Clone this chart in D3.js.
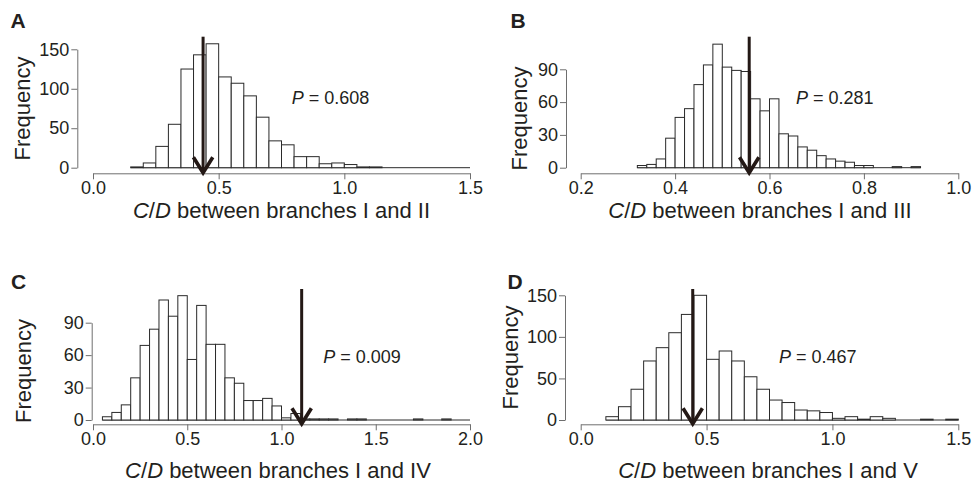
<!DOCTYPE html>
<html>
<head>
<meta charset="utf-8">
<script src="https://cdn.jsdelivr.net/npm/d3@7"></script>
<style>
  html, body { margin: 0; padding: 0; background: #fff; }
  svg { display: block; font-family: "Liberation Sans", Arial, Helvetica, sans-serif; }
</style>
</head>
<body>
<svg id="chart" width="973" height="483"></svg>
<script>
// ---------------- DATA ----------------
// Panel A: C/D between branches I and II (bins of 0.05 starting at 0.15)
const binStartA = 0.15, binWidthA = 0.05;
const countsA = [1, 6, 27, 55, 125, 143, 157, 115, 107, 91, 64, 34, 29, 14, 14, 5, 6, 4, 1, 1,
                 0, 0, 0, 0, 0, 0, 0];
const xTicksA = [0.0, 0.5, 1.0, 1.5];
const yTicksA = [0, 50, 100, 150];
const observedA = 0.438;
const pLabelA = "0.608";

// Panel B: C/D between branches I and III (bins of 0.02 starting at 0.32)
const binStartB = 0.32, binWidthB = 0.02;
const countsB = [2, 3, 8, 27, 46, 54, 76, 94, 113, 92, 89, 88, 63, 52, 63, 31, 29, 19, 16, 11,
                 8, 6, 5, 2, 2, 0, 0, 1, 0, 1];
const xTicksB = [0.2, 0.4, 0.6, 0.8, 1.0];
const yTicksB = [0, 30, 60, 90];
const observedB = 0.557;
const pLabelB = "0.281";

// Panel C: C/D between branches I and IV (bins of 0.05 starting at 0.05)
const binStartC = 0.05, binWidthC = 0.05;
const countsC = [3, 7, 14, 39, 69, 84, 111, 96, 115, 56, 106, 70, 70, 39, 34, 18, 18, 20, 13, 2,
                 6, 1, 1, 1, 1, 0, 1, 1, 0, 0, 0, 0, 0, 1, 0, 0, 1, 0, 0];
const xTicksC = [0.0, 0.5, 1.0, 1.5, 2.0];
const yTicksC = [0, 30, 60, 90];
const observedC = 1.107;
const pLabelC = "0.009";

// Panel D: C/D between branches I and V (bins of 0.05 starting at 0.10)
const binStartD = 0.10, binWidthD = 0.05;
const countsD = [4, 16, 37, 71, 87, 105, 127, 150, 73, 83, 71, 52, 37, 24, 21, 12, 11, 9, 2, 4,
                 1, 4, 2, 0, 0, 1, 0, 1];
const xTicksD = [0.0, 0.5, 1.0, 1.5];
const yTicksD = [0, 50, 100, 150];
const observedD = 0.445;
const pLabelD = "0.467";

const panelLetters = ["A", "B", "C", "D"];
const branchNames = ["II", "III", "IV", "V"];

// ---------------- LAYOUT ----------------
const panels = [
  { letter: panelLetters[0], branch: branchNames[0], start: binStartA, width: binWidthA, counts: countsA,
    xTicks: xTicksA, yTicks: yTicksA, obs: observedA, p: pLabelA,
    xDom: [0, 1.5], xRange: [93, 470], yDom: [0, 150], yRange: [167.7, 49.3],
    axisY: 173.3, axisX: 77.3, arrowTop: 36.7,
    letterPos: [10.5, 27.7], pPos: [291.7, 104], titlePos: [281.5, 218.3], freqPos: [29.5, 108.5] },
  { letter: panelLetters[1], branch: branchNames[1], start: binStartB, width: binWidthB, counts: countsB,
    xTicks: xTicksB, yTicks: yTicksB, obs: observedB, p: pLabelB,
    xDom: [0.2, 1.0], xRange: [580.7, 958.3], yDom: [0, 90], yRange: [167.7, 69.3],
    axisY: 173.3, axisX: 566, arrowTop: 36.7,
    letterPos: [510.5, 27.7], pPos: [796, 104], titlePos: [760, 218.3], freqPos: [527, 118.5] },
  { letter: panelLetters[2], branch: branchNames[2], start: binStartC, width: binWidthC, counts: countsC,
    xTicks: xTicksC, yTicks: yTicksC, obs: observedC, p: pLabelC,
    xDom: [0, 2.0], xRange: [93, 470], yDom: [0, 90], yRange: [420, 322.7],
    axisY: 424.3, axisX: 91.7, arrowTop: 289,
    letterPos: [11, 289], pPos: [323.3, 362.7], titlePos: [278, 477.7], freqPos: [31, 371] },
  { letter: panelLetters[3], branch: branchNames[3], start: binStartD, width: binWidthD, counts: countsD,
    xTicks: xTicksD, yTicks: yTicksD, obs: observedD, p: pLabelD,
    xDom: [0, 1.5], xRange: [580.7, 958.3], yDom: [0, 150], yRange: [420, 295.3],
    axisY: 424.3, axisX: 565, arrowTop: 289,
    letterPos: [507.5, 289], pPos: [779, 363.3], titlePos: [768, 477.7], freqPos: [518, 357.5] }
];

const TEXT = "#231f20";
const AXIS = "#6e6e6e";
const BAR = "#2a2a2a";
const ARROW = "#231815";

const svg = d3.select("#chart");

panels.forEach(pn => {
  const g = svg.append("g");
  const x = d3.scaleLinear().domain(pn.xDom).range(pn.xRange);
  const y = d3.scaleLinear().domain(pn.yDom).range(pn.yRange);

  const bins = pn.counts.map((c, i) => ({ x0: pn.start + i * pn.width, x1: pn.start + (i + 1) * pn.width, n: c }));

  // baseline along zero (zero-height bins)
  g.append("line")
    .attr("x1", x(bins[0].x0)).attr("x2", x(bins[bins.length - 1].x1))
    .attr("y1", y(0)).attr("y2", y(0))
    .attr("stroke", BAR).attr("stroke-width", 1);

  g.selectAll("rect.bar").data(bins.filter(b => b.n > 0)).join("rect")
    .attr("class", "bar")
    .attr("x", d => x(d.x0))
    .attr("width", d => x(d.x1) - x(d.x0))
    .attr("y", d => y(d.n))
    .attr("height", d => y(0) - y(d.n))
    .attr("fill", "#fff")
    .attr("stroke", BAR)
    .attr("stroke-width", 1);

  const xa = g.append("g")
    .attr("transform", `translate(0,${pn.axisY})`)
    .call(d3.axisBottom(x).tickValues(pn.xTicks).tickFormat(d3.format(".1f"))
      .tickSize(6).tickSizeOuter(0).tickPadding(2));
  const ya = g.append("g")
    .attr("transform", `translate(${pn.axisX},0)`)
    .call(d3.axisLeft(y).tickValues(pn.yTicks).tickFormat(d3.format("d"))
      .tickSize(6).tickSizeOuter(0).tickPadding(2));

  [xa, ya].forEach(a => {
    a.attr("font-size", null).attr("font-family", null);
    a.select(".domain").attr("stroke", AXIS).attr("stroke-width", 1);
    a.selectAll(".tick line").attr("stroke", AXIS).attr("stroke-width", 1);
    a.selectAll(".tick text").attr("fill", TEXT).style("font-size", "18px");
  });
  xa.selectAll(".tick text").attr("dy", "0.7em");

  // observed value arrow
  const ax = x(pn.obs);
  g.append("line")
    .attr("x1", ax).attr("x2", ax)
    .attr("y1", pn.arrowTop).attr("y2", pn.axisY - 1)
    .attr("stroke", ARROW).attr("stroke-width", 3);
  g.append("path")
    .attr("d", `M${ax - 9.7},${pn.axisY - 16} L${ax},${pn.axisY - 0.5} L${ax + 9.7},${pn.axisY - 16}`)
    .attr("fill", "none").attr("stroke", ARROW).attr("stroke-width", 3.6)
    .attr("stroke-linejoin", "miter").attr("stroke-linecap", "butt");

  // P value
  const pt = g.append("text")
    .attr("x", pn.pPos[0]).attr("y", pn.pPos[1])
    .attr("fill", TEXT).style("font-size", "18px");
  pt.append("tspan").style("font-style", "italic").text("P");
  pt.append("tspan").text(" = " + pn.p);

  // x title
  const tt = g.append("text")
    .attr("x", pn.titlePos[0]).attr("y", pn.titlePos[1])
    .attr("text-anchor", "middle")
    .attr("fill", TEXT).style("font-size", "22px");
  tt.append("tspan").style("font-style", "italic").text("C");
  tt.append("tspan").text("/");
  tt.append("tspan").style("font-style", "italic").text("D");
  tt.append("tspan").text(" between branches I and " + pn.branch);

  // y title
  g.append("text")
    .attr("transform", `translate(${pn.freqPos[0]},${pn.freqPos[1]}) rotate(-90)`)
    .attr("text-anchor", "middle")
    .attr("fill", TEXT).style("font-size", "22px")
    .text("Frequency");

  // panel letter
  g.append("text")
    .attr("x", pn.letterPos[0]).attr("y", pn.letterPos[1])
    .attr("fill", TEXT).style("font-size", "21px").style("font-weight", "bold")
    .text(pn.letter);
});
</script>
</body>
</html>
